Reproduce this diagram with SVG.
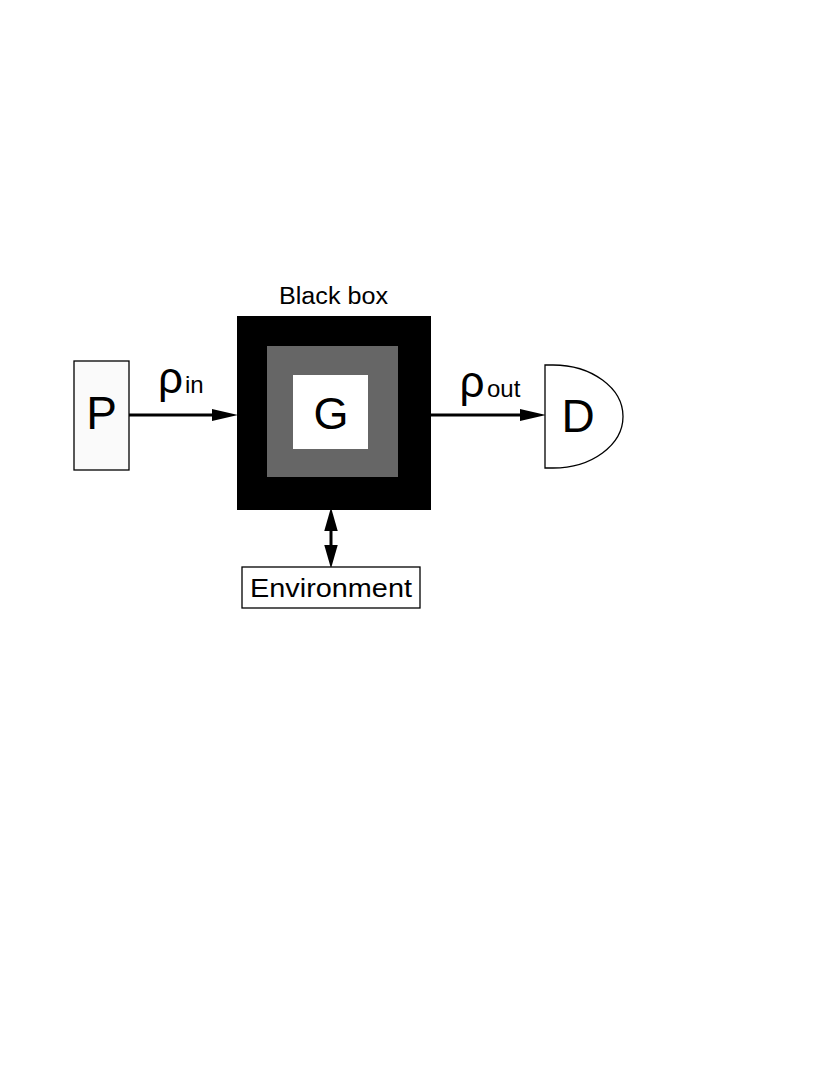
<svg xmlns="http://www.w3.org/2000/svg" width="830" height="1074" viewBox="0 0 830 1074">
<defs>
<style>
text{font-family:"Liberation Sans",Arial,sans-serif;fill:#000}
.ln{stroke:#000;stroke-width:3;fill:none}
.bx{stroke:#000;stroke-width:1.3}
</style>
<marker id="ah" markerUnits="userSpaceOnUse" markerWidth="26" markerHeight="14" viewBox="0 0 24 11" refX="12" refY="5.5" orient="auto-start-reverse">
<path d="M0,0 L24,5.5 L0,11 Z" fill="#000"/>
</marker>
<marker id="ah2" markerUnits="userSpaceOnUse" markerWidth="24" markerHeight="14" viewBox="0 0 21 12" refX="10" refY="6" orient="auto-start-reverse">
<path d="M0,0 L21,6 L0,12 Z" fill="#000"/>
</marker>
</defs>
<rect width="830" height="1074" fill="#fff"/>
<g id="connectors">
<line class="ln" x1="129" y1="415" x2="225" y2="415" marker-end="url(#ah)"/>
<line class="ln" x1="431" y1="415" x2="533" y2="415" marker-end="url(#ah)"/>
<line class="ln" x1="331" y1="520" x2="331" y2="556" marker-start="url(#ah2)" marker-end="url(#ah2)"/>
</g>
<g id="label-in">
<text x="158" y="393" font-size="44">ρ</text>
<text x="185" y="392.5" font-size="24">in</text>
</g>
<g id="label-out">
<text x="459.5" y="397" font-size="44">ρ</text>
<text x="487" y="396.5" font-size="24">out</text>
</g>
<g id="node-P">
<rect class="bx" x="74" y="361" width="55" height="109" fill="#fafafa"/>
<text x="101.5" y="429" font-size="46" text-anchor="middle">P</text>
</g>
<g id="node-blackbox">
<text x="279" y="304" font-size="23" textLength="109" lengthAdjust="spacingAndGlyphs">Black box</text>
<rect x="237" y="316" width="194" height="194" fill="#000"/>
<rect x="267" y="346" width="131" height="131" fill="#666"/>
<rect x="293" y="375" width="75" height="74" fill="#fff"/>
<text x="331" y="429" font-size="45" text-anchor="middle">G</text>
</g>
<g id="node-D">
<path class="bx" d="M545,365 H553 A70,51.5 0 0 1 553,468 H545 Z" fill="#fff"/>
<text x="578" y="432" font-size="46" text-anchor="middle">D</text>
</g>
<g id="node-environment">
<rect class="bx" x="242" y="567" width="178" height="41" fill="#fff"/>
<text x="250" y="597" font-size="25" textLength="162" lengthAdjust="spacingAndGlyphs">Environment</text>
</g>
</svg>
